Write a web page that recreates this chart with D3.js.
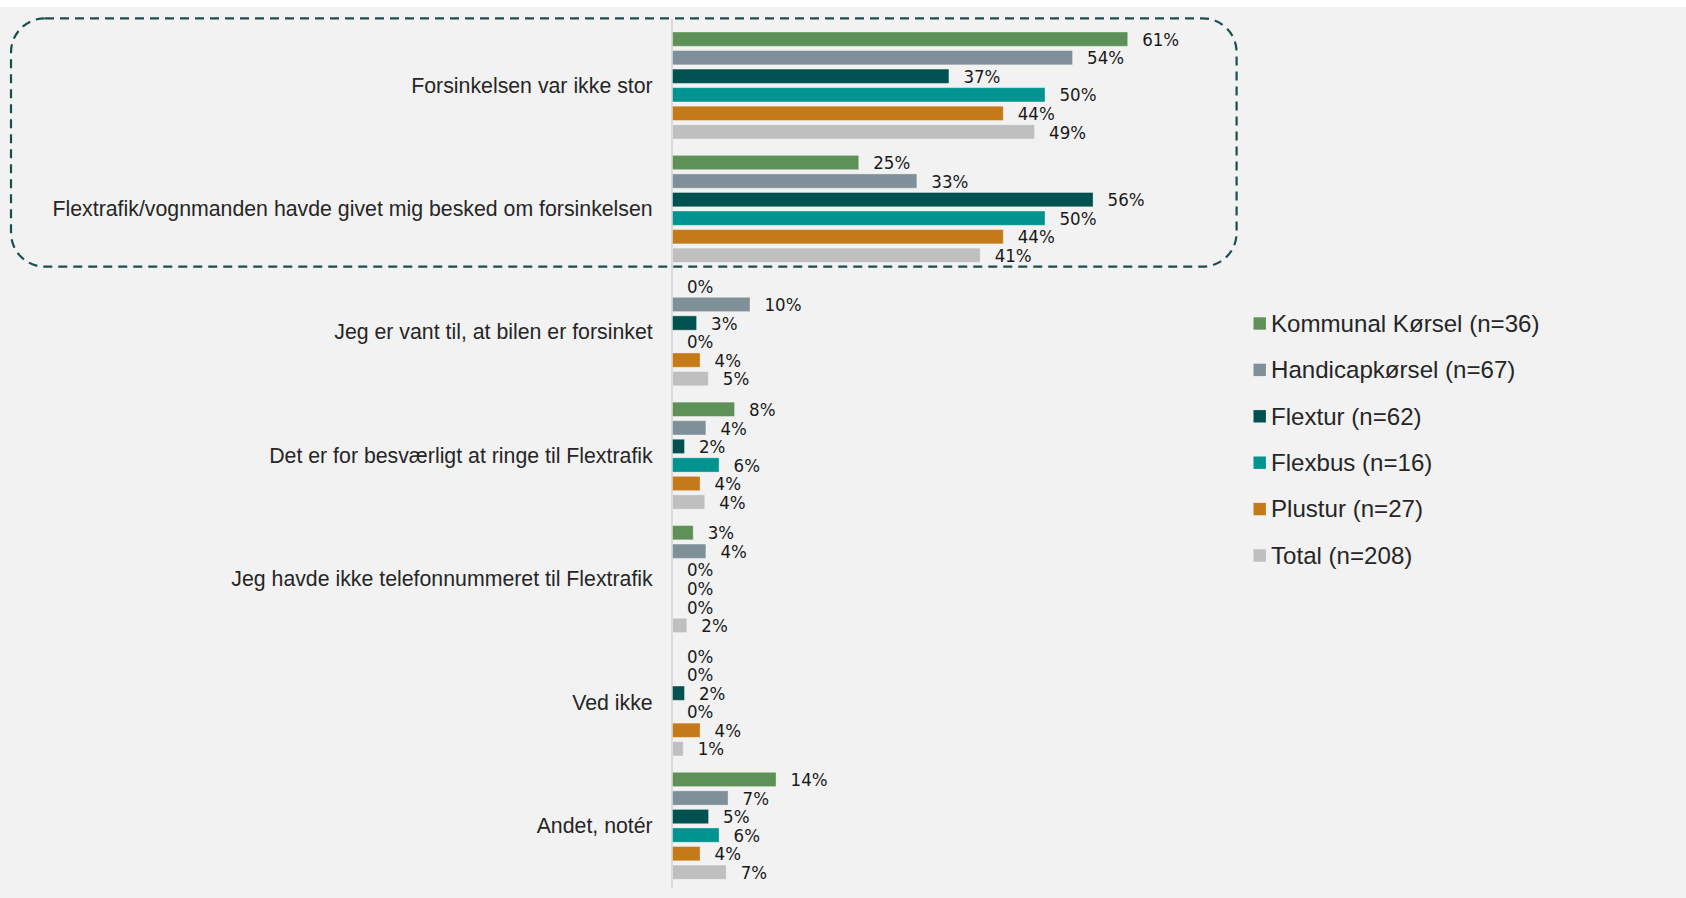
<!DOCTYPE html>
<html>
<head>
<meta charset="utf-8">
<script src="https://cdn.jsdelivr.net/npm/d3@7"></script>
<style>
  html, body { margin: 0; padding: 0; background: #ffffff; }
  svg { display: block; }
</style>
</head>
<body>
<script>
// ---- Data ----
const categories = [
  "Forsinkelsen var ikke stor",
  "Flextrafik/vognmanden havde givet mig besked om forsinkelsen",
  "Jeg er vant til, at bilen er forsinket",
  "Det er for besværligt at ringe til Flextrafik",
  "Jeg havde ikke telefonnummeret til Flextrafik",
  "Ved ikke",
  "Andet, notér"
];
const seriesNames = [
  "Kommunal Kørsel (n=36)",
  "Handicapkørsel (n=67)",
  "Flextur (n=62)",
  "Flexbus (n=16)",
  "Plustur (n=27)",
  "Total (n=208)"
];
const seriesColors = ["#5E9157", "#7F9099", "#00514F", "#009490", "#C47A18", "#BFBFBF"];
// percentages per series, in category order
const kommunal    = [61.1, 25.0, 0,    8.33, 2.78, 0,    13.9];
const handicap    = [53.7, 32.8, 10.4, 4.48, 4.48, 0,    7.46];
const flextur     = [37.1, 56.45, 3.23, 1.61, 0,   1.61, 4.84];
const flexbus     = [50.0, 50.0, 0,    6.25, 0,    0,    6.25];
const plustur     = [44.4, 44.4, 3.70, 3.70, 0,    3.70, 3.70];
const total       = [48.6, 41.3, 4.81, 4.33, 1.92, 1.44, 7.21];
const seriesValues = [kommunal, handicap, flextur, flexbus, plustur, total];

// ---- Layout ----
const W = 1686, H = 898;
const svg = d3.select("body").append("svg").attr("width", W).attr("height", H);

svg.append("rect").attr("x", 0).attr("y", 7).attr("width", W).attr("height", H - 7).attr("fill", "#F2F2F2");

const y0 = d3.scaleBand().domain(categories).range([23.3, 887]).padding(0);
const y1 = d3.scaleBand().domain(seriesNames).range([0, y0.bandwidth()])
  .paddingInner(0.229).paddingOuter(0.44).align(0.532);
const x = d3.scaleLinear().domain([0, 100]).range([672, 672 + 745]);

// dashed highlight box
svg.append("rect")
  .attr("x", 11).attr("y", 18.3)
  .attr("width", 1236.6 - 11).attr("height", 266.7 - 18.3)
  .attr("rx", 34).attr("ry", 34)
  .attr("fill", "none")
  .attr("stroke", "#17504E")
  .attr("stroke-width", 2.2)
  .attr("stroke-dasharray", "9,6");

// axis line
svg.append("line")
  .attr("x1", x(0)).attr("x2", x(0))
  .attr("y1", 19).attr("y2", 888)
  .attr("stroke", "#D9D9D9").attr("stroke-width", 2);

// bars
const fmt = v => Math.round(v) + "%";
const groups = svg.append("g").selectAll("g")
  .data(categories)
  .join("g")
  .attr("transform", d => `translate(0,${y0(d)})`);

groups.each(function(cat, ci) {
  const g = d3.select(this);
  const rows = seriesNames.map((s, si) => ({ s, si, v: seriesValues[si][ci] }));
  g.selectAll("rect.bar")
    .data(rows.filter(r => r.v > 0))
    .join("rect")
    .attr("class", "bar")
    .attr("x", x(0) + 0.5)
    .attr("y", r => y1(r.s))
    .attr("width", r => x(r.v) - x(0))
    .attr("height", y1.bandwidth())
    .attr("fill", r => seriesColors[r.si])
    .attr("stroke", "#ffffff")
    .attr("stroke-opacity", 0.35)
    .attr("stroke-width", 1);
  g.selectAll("text.val")
    .data(rows)
    .join("text")
    .attr("class", "val")
    .attr("x", r => x(r.v) + 15)
    .attr("y", r => y1(r.s) + y1.bandwidth() / 2)
    .attr("dy", "0.36em")
    .attr("font-family", "'Liberation Sans Narrow', 'DejaVu Sans Condensed', sans-serif")
    .attr("font-size", 18.5)
    .attr("fill", "#1a1a1a")
    .text(r => fmt(r.v));
});

// category labels
svg.append("g").selectAll("text")
  .data(categories)
  .join("text")
  .attr("x", 652.7)
  .attr("y", d => y0(d) + y0.bandwidth() / 2)
  .attr("dy", "0.36em")
  .attr("text-anchor", "end")
  .attr("font-family", "'Liberation Sans', Arial, sans-serif")
  .attr("font-size", 21.3)
  .attr("fill", "#262626")
  .text(d => d);

// legend
const legend = svg.append("g").selectAll("g")
  .data(seriesNames)
  .join("g")
  .attr("transform", (d, i) => `translate(1253.5,${317.3 + i * 46.4})`);
legend.append("rect")
  .attr("width", 12.4).attr("height", 12.4)
  .attr("fill", (d, i) => seriesColors[i]);
legend.append("text")
  .attr("x", 17.5).attr("y", 14.4)
  .attr("font-family", "'Liberation Sans', Arial, sans-serif")
  .attr("font-size", 24.1)
  .attr("fill", "#262626")
  .text(d => d);
</script>
</body>
</html>
